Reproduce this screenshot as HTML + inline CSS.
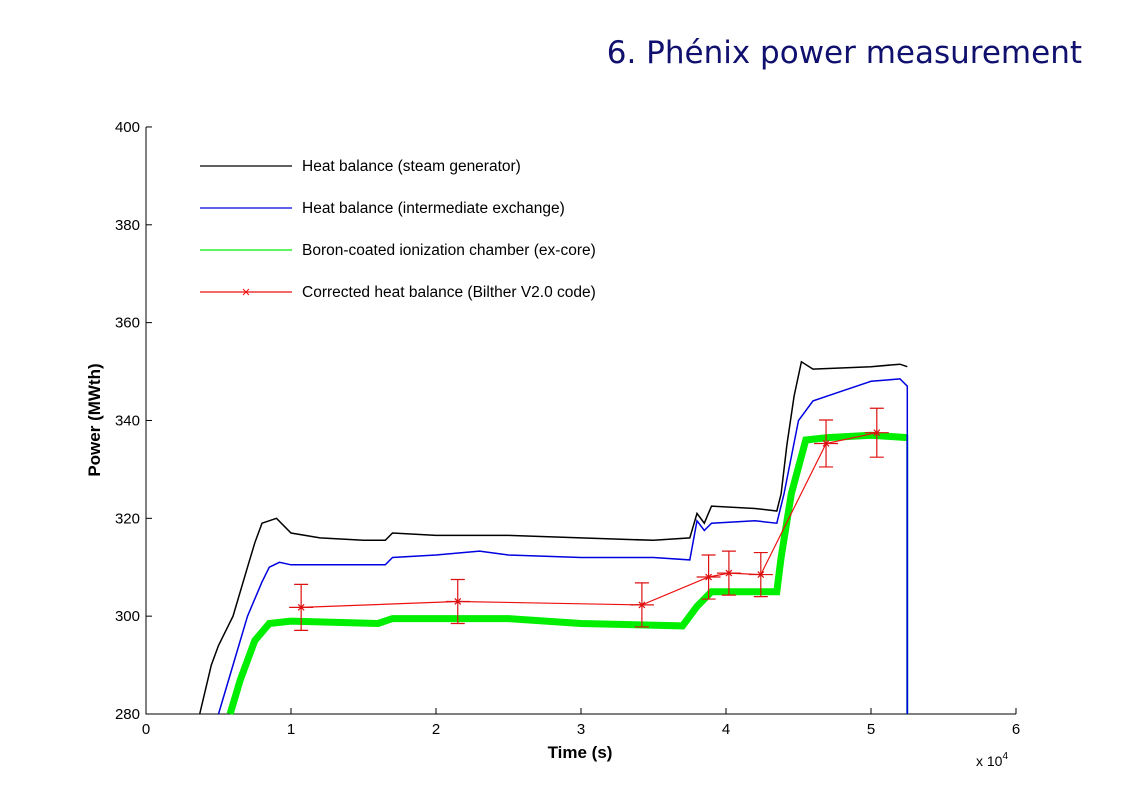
<!DOCTYPE html>
<html><head><meta charset="utf-8"><style>
body{margin:0;background:#fff;width:1122px;height:793px;overflow:hidden;font-family:"Liberation Sans",sans-serif}
#title{position:absolute;right:40px;top:35px;font-family:"DejaVu Sans",sans-serif;font-size:31px;color:#10106e}
svg{position:absolute;left:0;top:0}
text{font-family:"Liberation Sans",sans-serif}
</style></head><body>
<div id="title">6. Phénix power measurement</div>
<svg id="chart" width="1122" height="793"></svg>
<script>
const xTicks=[0,1,2,3,4,5,6];
const yTicks=[280,300,320,340,360,380,400];
const blackT=[0.37,0.45,0.5,0.6,0.7,0.75,0.8,0.9,1.0,1.2,1.5,1.65,1.7,2.0,2.5,3.0,3.5,3.75,3.8,3.85,3.9,4.2,4.35,4.38,4.42,4.47,4.52,4.6,5.0,5.2,5.25];
const blackV=[280,290,294,300,310,315,319,320,317,316,315.5,315.5,317,316.5,316.5,316,315.5,316,321,319,322.5,322,321.5,325,335,345,352,350.5,351,351.5,351];
const blueT=[0.5,0.6,0.7,0.8,0.85,0.92,1.0,1.65,1.7,2.0,2.3,2.5,3.0,3.5,3.75,3.8,3.85,3.9,4.2,4.35,4.4,4.5,4.6,4.8,5.0,5.2,5.25,5.25];
const blueV=[280,290,300,307,310,311,310.5,310.5,312,312.5,313.3,312.5,312,312,311.5,319.5,317.5,319,319.5,319,325,340,344,346,348,348.5,347,280];
const greenT=[0.58,0.65,0.75,0.85,1.0,1.6,1.7,2.5,3.0,3.7,3.8,3.9,4.35,4.38,4.45,4.55,4.7,5.0,5.25];
const greenV=[280,287,295,298.5,299,298.5,299.5,299.5,298.5,298,302,305,305,312,325,336,336.5,337,336.5];
const redT=[1.07,2.15,3.42,3.88,4.02,4.24,4.69,5.04];
const redV=[301.8,303,302.3,308,308.8,308.5,335.3,337.5];
const redErr=[4.7,4.5,4.5,4.5,4.5,4.5,4.8,5];
const legendLabels=["Heat balance (steam generator)","Heat balance (intermediate exchange)","Boron-coated ionization chamber (ex-core)","Corrected heat balance (Bilther V2.0 code)"];
const legendColors=["#000","#0000e0","#00ee00","#ee1111"];

const X=t=>146+t*145, Y=v=>714-(v-280)*4.892;
const svg=document.getElementById('chart');const NS='http://www.w3.org/2000/svg';
function mk(tag,at,parent){const e=document.createElementNS(NS,tag);for(const k in at)e.setAttribute(k,at[k]);(parent||svg).appendChild(e);return e;}
function pts(T,V){return T.map((t,i)=>X(t).toFixed(1)+','+Y(V[i]).toFixed(1)).join(' ');}

let ax=mk('path',{d:`M146,127 V714 H1016`,stroke:'#000',fill:'none','stroke-width':1});


xTicks.forEach(t=>{let l=mk('line',{x1:X(t),x2:X(t),y1:714,y2:708,stroke:'#000'});


let tx=mk('text',{x:X(t),y:734,'text-anchor':'middle','font-size':15});tx.textContent=t;

});
yTicks.forEach(v=>{let l=mk('line',{x1:146,x2:152,y1:Y(v),y2:Y(v),stroke:'#000'});


let tx=mk('text',{x:140,y:Y(v)+5,'text-anchor':'end','font-size':15});tx.textContent=v;

});
let xt=mk('text',{x:580,y:758,'text-anchor':'middle','font-size':17,'font-weight':'bold'});xt.textContent='Time (s)';


let yt=mk('text',{x:100,y:420,'text-anchor':'middle','font-size':17,'font-weight':'bold',transform:'rotate(-90 100 420)'});yt.textContent='Power (MWth)';


let ex=mk('text',{x:976,y:766,'font-size':14});ex.innerHTML='x 10<tspan dy="-7" font-size="10">4</tspan>';



let g=mk('polyline',{points:pts(greenT,greenV),fill:'none',stroke:'#00ee00','stroke-width':7});


let gv=mk('line',{x1:X(5.25),x2:X(5.25),y1:Y(337),y2:Y(280),stroke:'#008b8b','stroke-width':2});


let b=mk('polyline',{points:pts(blueT,blueV),fill:'none',stroke:'#0000e0','stroke-width':1.5});


let k=mk('polyline',{points:pts(blackT,blackV),fill:'none',stroke:'#000','stroke-width':1.5});


let r=mk('polyline',{points:pts(redT,redV),fill:'none',stroke:'#ee1111','stroke-width':1.2});


redT.forEach((t,i)=>{const x=X(t),y=Y(redV[i]),y1=Y(redV[i]+redErr[i]),y2=Y(redV[i]-redErr[i]);
let e=mk('path',{d:`M${x},${y1}V${y2}M${x-7},${y1}H${x+7}M${x-7},${y2}H${x+7}M${x-12},${y}H${x+12}M${x-3},${y-3}L${x+3},${y+3}M${x-3},${y+3}L${x+3},${y-3}`,stroke:'#d11',fill:'none','stroke-width':1.2});

});

legendLabels.forEach((s,i)=>{const y=166+i*42;
let l=mk('line',{x1:200,x2:292,y1:y,y2:y,stroke:legendColors[i],'stroke-width':1.3});


if(i==3){let m=mk('path',{d:`M243,${y-3}L249,${y+3}M243,${y+3}L249,${y-3}`,stroke:'#e11'});

}
let tx=mk('text',{x:302,y:y+5,'font-size':15.5});tx.textContent=s;

});
</script>
</body></html>
